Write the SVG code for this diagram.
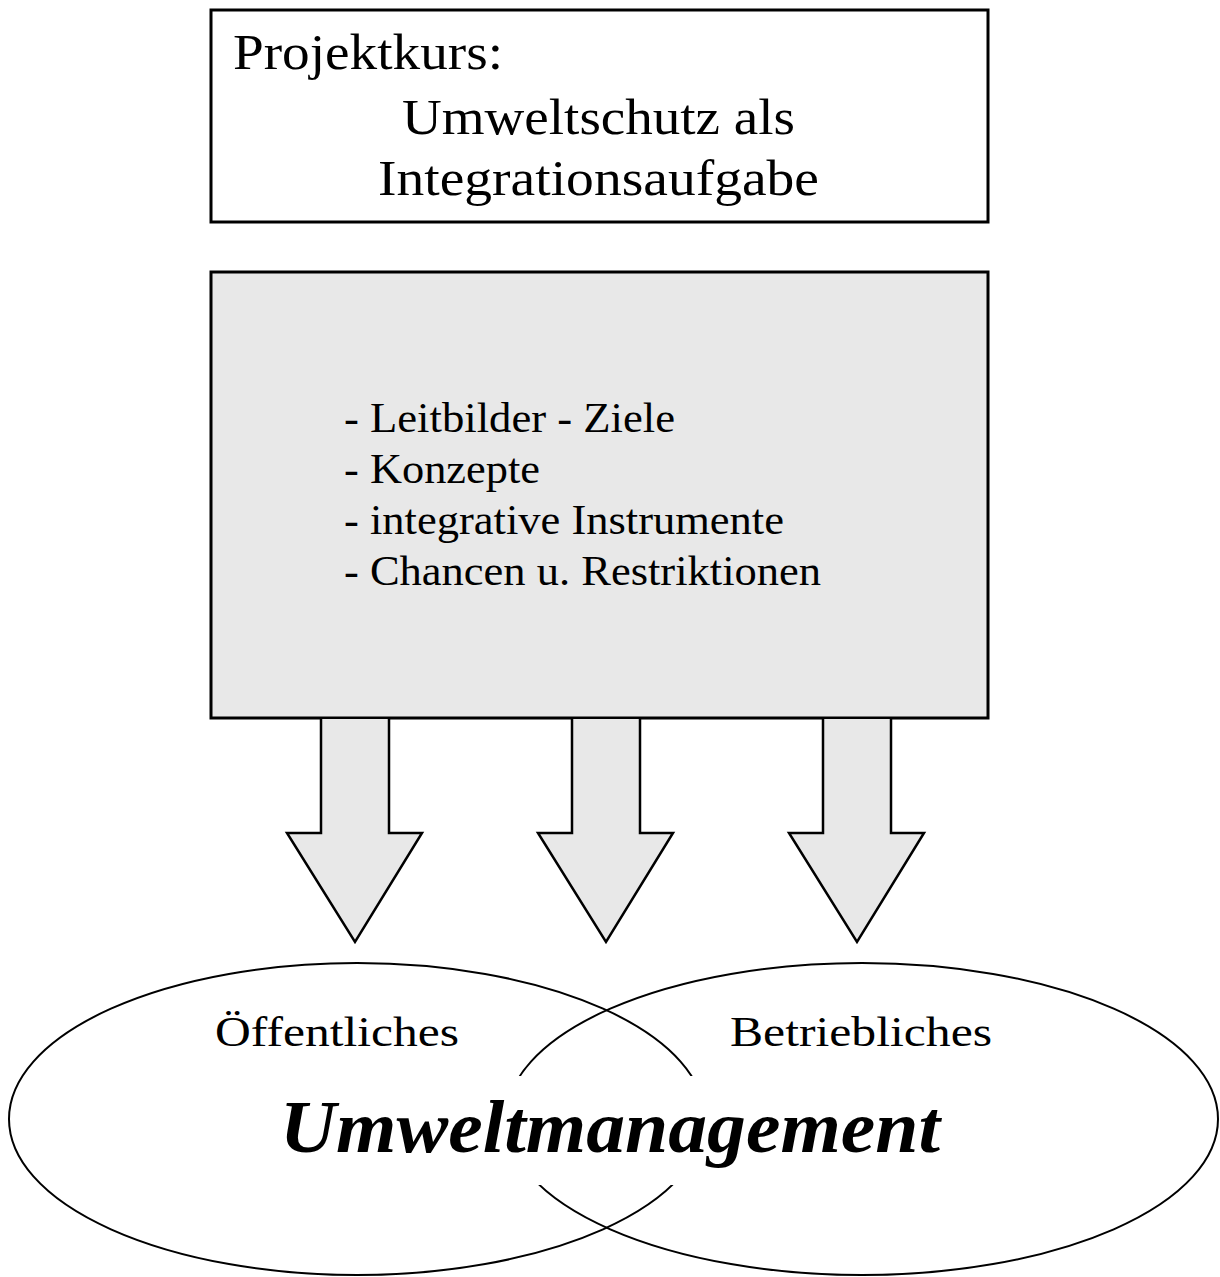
<svg xmlns="http://www.w3.org/2000/svg" width="1220" height="1277" viewBox="0 0 1220 1277">
<style>
.box{stroke:#000;stroke-width:3}
.arrow{fill:#e8e8e8;stroke:#000;stroke-width:2.5;stroke-linejoin:miter}
.ell{fill:none;stroke:#000;stroke-width:2}
.t{font-family:"Liberation Serif","Times New Roman",serif;fill:#000}
</style>
<rect width="1220" height="1277" fill="#fff"/>
<g id="title">
<rect class="box" x="211" y="10" width="777" height="212" fill="#fff"/>
<text class="t" x="233" y="69" font-size="50" textLength="270" lengthAdjust="spacingAndGlyphs">Projektkurs:</text>
<text class="t" x="402" y="134" font-size="50" textLength="393" lengthAdjust="spacingAndGlyphs">Umweltschutz als</text>
<text class="t" x="378" y="195" font-size="50" textLength="441" lengthAdjust="spacingAndGlyphs">Integrationsaufgabe</text>
</g>
<g id="content">
<rect class="box" x="211" y="272" width="777" height="446" fill="#e8e8e8"/>
<text class="t" x="344" y="432" font-size="42" textLength="331" lengthAdjust="spacingAndGlyphs">- Leitbilder - Ziele</text>
<text class="t" x="344" y="483" font-size="42" textLength="196" lengthAdjust="spacingAndGlyphs">- Konzepte</text>
<text class="t" x="344" y="534" font-size="42" textLength="440" lengthAdjust="spacingAndGlyphs">- integrative Instrumente</text>
<text class="t" x="344" y="585" font-size="42" textLength="477" lengthAdjust="spacingAndGlyphs">- Chancen u. Restriktionen</text>
</g>
<g id="connectors">
<path class="arrow" d="M321 719 L321 833 L287 833 L355 942 L422 833 L389 833 L389 719"/>
<path class="arrow" d="M572 719 L572 833 L538 833 L606 942 L673 833 L640 833 L640 719"/>
<path class="arrow" d="M823 719 L823 833 L789 833 L857 942 L924 833 L891 833 L891 719"/>
</g>
<g id="venn">
<ellipse class="ell" cx="357" cy="1119" rx="348" ry="156"/>
<ellipse class="ell" cx="862" cy="1119" rx="356" ry="156"/>
<rect x="250" y="1076" width="720" height="109" fill="#fff"/>
</g>
<g id="oeffentliches">
<text class="t" x="215" y="1046" font-size="42" textLength="244" lengthAdjust="spacingAndGlyphs">Öffentliches</text>
</g>
<g id="betriebliches">
<text class="t" x="730" y="1046" font-size="42" textLength="262" lengthAdjust="spacingAndGlyphs">Betriebliches</text>
</g>
<g id="umweltmanagement">
<text class="t" x="280" y="1152" font-size="74" font-weight="bold" font-style="italic" textLength="660" lengthAdjust="spacingAndGlyphs">Umweltmanagement</text>
</g>
</svg>
